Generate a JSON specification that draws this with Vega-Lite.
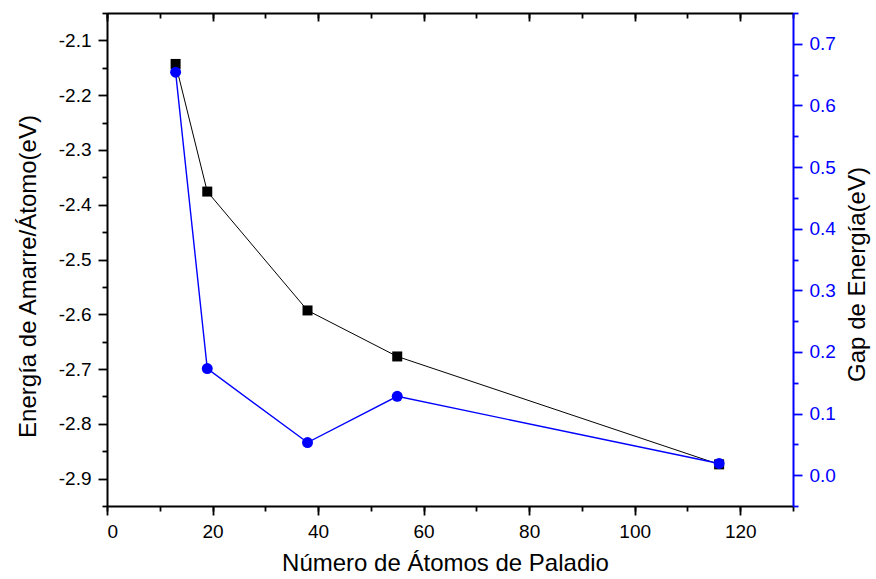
{
  "$schema": "https://vega.github.io/schema/vega-lite/v6.json",
  "autosize": "none",
  "width": 686,
  "height": 493,
  "padding": {"left": 107, "top": 13, "right": 83, "bottom": 73},
  "config": {
    "locale": {"number": {"decimal": ".", "thousands": ",", "grouping": [3], "currency": ["$", ""], "minus": "-"}},
    "view": {"stroke": null},
    "font": "Liberation Sans",
    "axis": {"grid": false, "labelFont": "Liberation Sans", "titleFont": "Liberation Sans", "labelFontSize": 19, "titleFontSize": 24, "titleFontWeight": "normal", "labelColor": "black", "titleColor": "black", "tickColor": "black", "domainColor": "black", "tickWidth": 1.8, "domainWidth": 2, "labelPadding": 7}
  },
  "data": {"values": [
    {"n": 13, "binding": -2.143, "gap": 0.654},
    {"n": 19, "binding": -2.376, "gap": 0.173},
    {"n": 38, "binding": -2.593, "gap": 0.053},
    {"n": 55, "binding": -2.677, "gap": 0.128},
    {"n": 116, "binding": -2.874, "gap": 0.019}
  ]},
  "layer": [
    {
      "mark": {"type": "line", "color": "black", "strokeWidth": 1},
      "encoding": {
        "x": {"field": "n", "type": "quantitative", "scale": {"domain": [0, 130], "nice": false, "zero": false},
              "axis": {"orient": "bottom", "values": [0, 20, 40, 60, 80, 100, 120], "format": "d", "tickSize": 9, "title": "Número de Átomos de Paladio", "titlePadding": 10, "titleX": 338}},
        "y": {"field": "binding", "type": "quantitative", "scale": {"domain": [-2.95, -2.05], "nice": false, "zero": false},
              "axis": {"orient": "left", "values": [-2.9, -2.8, -2.7, -2.6, -2.5, -2.4, -2.3, -2.2, -2.1], "format": ".1f", "tickSize": 9, "title": "Energía de Amarre/Átomo(eV)", "titlePadding": 18, "titleY": 263}}
      }
    },
    {
      "mark": {"type": "point", "shape": "square", "filled": true, "color": "black", "size": 100, "opacity": 1},
      "encoding": {
        "x": {"field": "n", "type": "quantitative", "scale": {"domain": [0, 130], "nice": false, "zero": false},
              "axis": {"orient": "bottom", "values": [0, 10, 20, 30, 40, 50, 60, 70, 80, 90, 100, 110, 120, 130], "labels": false, "domain": false, "tickSize": 5, "title": null}},
        "y": {"field": "binding", "type": "quantitative", "scale": {"domain": [-2.95, -2.05], "nice": false, "zero": false},
              "axis": {"orient": "left", "values": [-2.95, -2.85, -2.75, -2.65, -2.55, -2.45, -2.35, -2.25, -2.15, -2.05], "labels": false, "domain": false, "tickSize": 5, "title": null}}
      }
    },
    {
      "mark": {"type": "line", "color": "#0000FF", "strokeWidth": 1.4},
      "encoding": {
        "x": {"field": "n", "type": "quantitative", "scale": {"domain": [0, 130], "nice": false, "zero": false},
              "axis": {"orient": "top", "values": [0, 20, 40, 60, 80, 100, 120], "labels": false, "tickSize": -8, "title": null}},
        "y": {"field": "gap", "type": "quantitative", "scale": {"domain": [-0.05, 0.75], "nice": false, "zero": false},
              "axis": {"orient": "right", "values": [0, 0.1, 0.2, 0.3, 0.4, 0.5, 0.6, 0.7], "format": ".1f", "tickSize": 9, "labelColor": "#0000FF", "tickColor": "#0000FF", "domainColor": "#0000FF", "title": "Gap de Energía(eV)", "titleAngle": 270, "titleBaseline": "top", "titlePadding": 10, "titleY": 261}}
      }
    },
    {
      "mark": {"type": "point", "shape": "circle", "filled": true, "color": "#0000FF", "size": 120, "opacity": 1},
      "encoding": {
        "x": {"field": "n", "type": "quantitative", "scale": {"domain": [0, 130], "nice": false, "zero": false},
              "axis": {"orient": "top", "values": [0, 10, 20, 30, 40, 50, 60, 70, 80, 90, 100, 110, 120, 130], "labels": false, "domain": false, "tickSize": -5, "title": null}},
        "y": {"field": "gap", "type": "quantitative", "scale": {"domain": [-0.05, 0.75], "nice": false, "zero": false},
              "axis": {"orient": "right", "values": [-0.05, 0.05, 0.15, 0.25, 0.35, 0.45, 0.55, 0.65, 0.75], "labels": false, "domain": false, "tickSize": 5, "tickColor": "#0000FF", "title": null}}
      }
    }
  ],
  "resolve": {"scale": {"y": "independent"}, "axis": {"x": "independent", "y": "independent"}}
}
